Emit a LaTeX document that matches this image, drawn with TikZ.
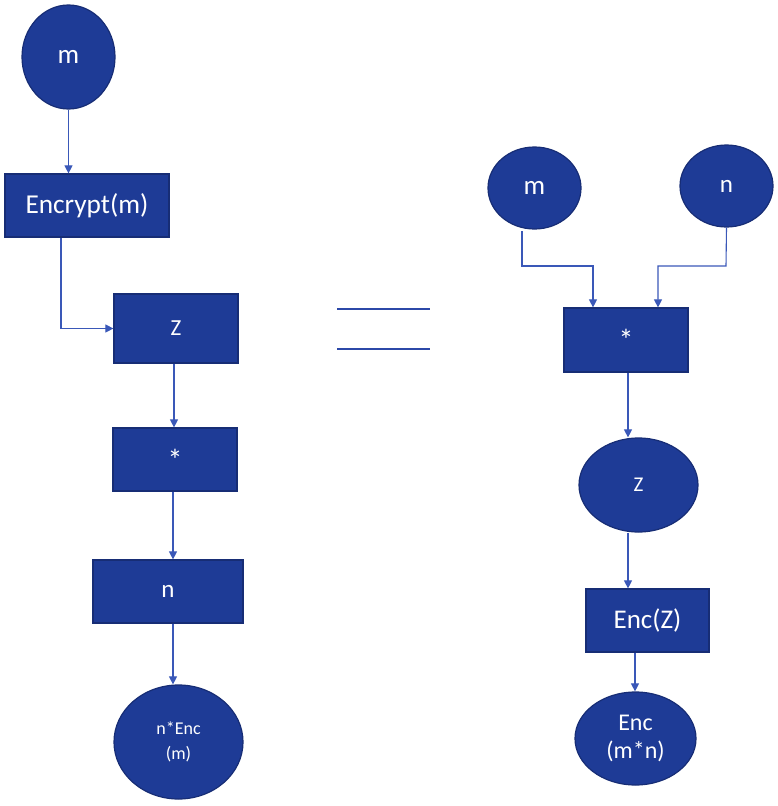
\documentclass[tikz,border=0pt]{standalone}
\usepackage{fontspec}
\setmainfont{Carlito}
\usetikzlibrary{shapes.geometric,arrows.meta,calc}
\definecolor{nodefill}{HTML}{1E3B96}
\definecolor{nodeedge}{HTML}{172D75}
\definecolor{linkcol}{HTML}{3A58B8}
\definecolor{eqcol}{HTML}{2C48A8}
\tikzset{
  x=1pt,y=-1pt,
  boxnode/.style={rectangle,fill=nodefill,draw=nodeedge,line width=1.2pt,inner sep=0pt,text=white,align=center},
  ovalnode/.style={ellipse,fill=nodefill,draw=nodeedge,line width=1.2pt,inner sep=0pt,text=white,align=center},
  link/.style={draw=linkcol,line width=1.1pt,-{Triangle[length=8pt,width=8pt]}},
  eqline/.style={draw=eqcol,line width=2.2pt}
}
\newcommand{\lowstar}{\raisebox{-0.28em}{*}}
\begin{document}
\begin{tikzpicture}
\useasboundingbox (0,0) rectangle (778,806);
% left column
\node[ovalnode,minimum width=93,minimum height=104,font=\fontsize{27}{30}\selectfont] (lm) at (68.5,57) {m};
\node[boxnode,minimum width=164,minimum height=63,font=\fontsize{27.3}{30}\selectfont] (enc) at (87,205.5) {Encrypt(m)};
\node[boxnode,minimum width=124,minimum height=69,font=\fontsize{23}{27}\selectfont] (lz) at (176,328.5) {Z};
\node[boxnode,minimum width=124,minimum height=63,font=\fontsize{30}{32}\selectfont] (lstar) at (175,459.5) {\lowstar};
\node[boxnode,minimum width=150,minimum height=63,font=\fontsize{25}{28}\selectfont] (ln) at (168,591.5) {n};
\node[ovalnode,minimum width=129,minimum height=114,font=\fontsize{18}{25}\selectfont] (lres) at (178.5,742) {n*Enc\\(m)};
% right column
\node[ovalnode,minimum width=93,minimum height=82,font=\fontsize{27}{30}\selectfont] (rm) at (534.5,188) {m};
\node[ovalnode,minimum width=93,minimum height=82,font=\fontsize{25}{28}\selectfont] (rn) at (726.5,186) {n};
\node[boxnode,minimum width=124,minimum height=64,font=\fontsize{30}{32}\selectfont] (rstar) at (626,340) {\lowstar};
\node[ovalnode,minimum width=119,minimum height=94,font=\fontsize{21}{24}\selectfont] (rz) at (638.5,485) {Z};
\node[boxnode,minimum width=123,minimum height=63,font=\fontsize{27}{30}\selectfont] (encz) at (647.5,620.5) {Enc(Z)};
\node[ovalnode,minimum width=121,minimum height=93,font=\fontsize{24}{28}\selectfont] (rres) at (635.5,738.5) {Enc\\(m*n)};
% equals sign
\coordinate (eqa1) at (337,309);
\coordinate (eqa2) at (430,309);
\coordinate (eqb1) at (337,349);
\coordinate (eqb2) at (430,349);
\draw[eqline] (eqa1) -- (eqa2);
\draw[eqline] (eqb1) -- (eqb2);
% left connectors
\draw[link] (lm.south) -- (lm.south |- enc.north);
\draw[link] ([xshift=-26]enc.south) |- (lz.west);
\draw[link] ([xshift=-2]lz.south) -- ([xshift=-2]lz.south |- lstar.north);
\draw[link] ([xshift=-2]lstar.south) -- ([xshift=-2]lstar.south |- ln.north);
\draw[link] ([xshift=5]ln.south) -- ([xshift=5]ln.south |- lres.north);
% right connectors
\coordinate (mbend) at (522,266);
\coordinate (nbend) at (726,266);
\draw[link] ([xshift=-12.5,yshift=-1.5]rm.south) -- (mbend) -| ([xshift=-33]rstar.north);
\draw[link] (rn.south) -- (nbend) -| ([xshift=32]rstar.north);
\draw[link] ([xshift=2]rstar.south) -- ([xshift=2]rstar.south |- rz.north);
\draw[link] ([xshift=-10.5]rz.south) -- ([xshift=-10.5]rz.south |- encz.north);
\draw[link] ([xshift=-12.5]encz.south) -- ([xshift=-12.5]encz.south |- rres.north);
\end{tikzpicture}
\end{document}
